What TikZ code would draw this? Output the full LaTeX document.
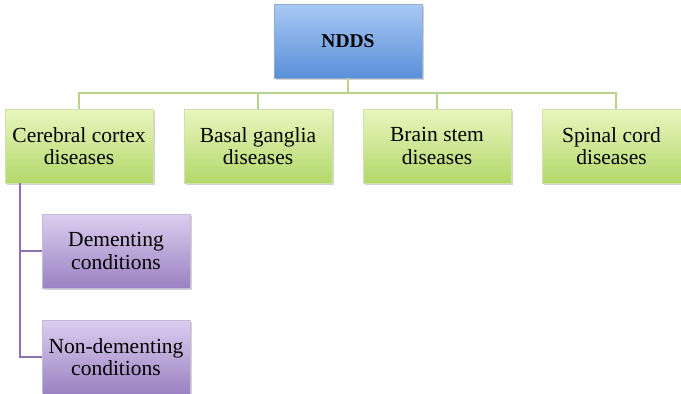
\documentclass[tikz,border=0pt]{standalone}
\usepackage{fontspec}
\setmainfont{Liberation Serif}
\usetikzlibrary{shadows}
\definecolor{blueTop}{HTML}{A9C9F5}
\definecolor{blueBot}{HTML}{5A8FD8}
\definecolor{greenTop}{HTML}{E8F6BE}
\definecolor{greenBot}{HTML}{B3D86A}
\definecolor{purpTop}{HTML}{DCCDEF}
\definecolor{purpBot}{HTML}{9B82C2}
\definecolor{greenLine}{HTML}{B9D38A}
\definecolor{purpLine}{HTML}{8F70B8}
\tikzset{
  box/.style={minimum width=148pt, minimum height=74pt, inner sep=0pt, align=center,
    font=\fontsize{21.5}{22.5}\selectfont,
    drop shadow={shadow xshift=1.5pt, shadow yshift=-2pt, opacity=0.35}},
  rootbox/.style={box, top color=blueTop, bottom color=blueBot, draw=blueBot!80!black!60,
    font=\fontsize{19.5}{22}\selectfont\bfseries},
  catbox/.style={box, top color=greenTop, bottom color=greenBot, draw=greenBot!90!black!50},
  subbox/.style={box, top color=purpTop, bottom color=purpBot, draw=purpBot!90!black!50},
  glink/.style={draw=greenLine, line width=1.2pt},
  plink/.style={draw=purpLine, line width=1.2pt}
}
\begin{document}
\begin{tikzpicture}[x=1pt, y=-1pt]
\useasboundingbox (0,0) rectangle (681,394);
% root
\node[rootbox] (root) at (348,41) {NDDS};
% disease groups
\node[catbox] (cc) at (79,146) {Cerebral cortex\\diseases};
\node[catbox] (bg) at (258,146) {Basal ganglia\\diseases};
\node[catbox] (bs) at (437,146) {Brain stem\\diseases};
\node[catbox, minimum width=139pt] (sc) at (611.5,146) {Spinal cord\\diseases};
% cortical subgroups
\node[subbox] (dem) at (116,251) {Dementing\\conditions};
\node[subbox] (ndem) at (116,357) {Non-dementing\\conditions};
% bus from root to groups
\coordinate (bus) at (348,93);
\draw[glink] (root.south) -- (bus);
\draw[glink] (cc.north) |- (bus) -| ([xshift=4.5pt]sc.north);
\draw[glink] (bg.north) -- (bg.north |- bus);
\draw[glink] (bs.north) -- (bs.north |- bus);
% branch from cerebral cortex
\coordinate (trunk) at (20,183);
\draw[plink] (trunk) |- (ndem.west);
\draw[plink] (trunk |- dem.west) -- (dem.west);
\end{tikzpicture}
\end{document}
